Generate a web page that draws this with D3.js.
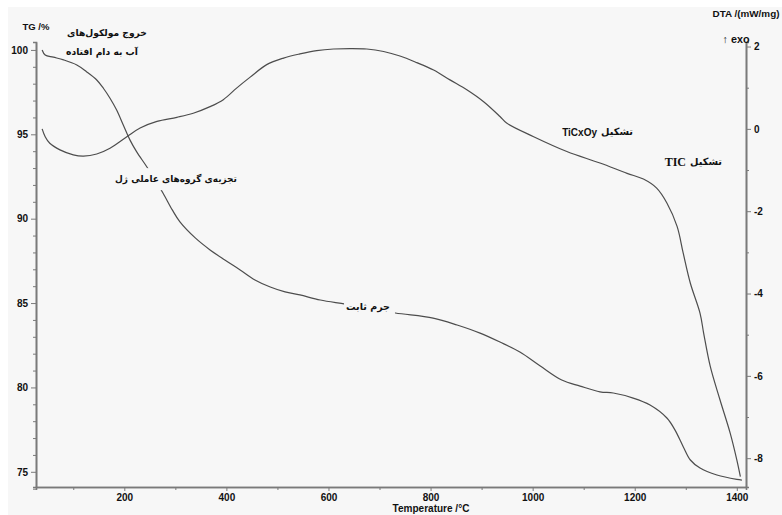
<!DOCTYPE html>
<html><head><meta charset="utf-8">
<script src="https://cdn.jsdelivr.net/npm/d3@7/dist/d3.min.js"></script>
<style>body{margin:0;background:#fff}svg{display:block}</style>
</head><body>
<svg id="c" width="782" height="515"></svg>
<script>
// ---- data ----
const tgTemp = [39,45,61,81,107,126,146,159,172,185,198,211,224,244,260,276,294,309,339,368,397,427,456,486,515,544,584,633,682,731,805,852,897,936,975,1015,1057,1093,1132,1158,1197,1230,1263,1279,1295,1309,1328,1361,1400,1410];
const tgValue = [100.0,99.70,99.57,99.41,99.11,98.71,98.22,97.73,97.14,96.44,95.55,94.67,93.97,93.08,92.30,91.51,90.52,89.81,88.86,88.15,87.55,86.96,86.37,85.95,85.66,85.48,85.18,84.94,84.68,84.41,84.11,83.70,83.22,82.69,82.10,81.27,80.44,80.08,79.74,79.67,79.37,78.96,78.19,77.47,76.49,75.70,75.22,74.81,74.55,74.51];
const dtaTemp = [39,45,54,74,100,120,146,172,205,231,264,303,335,368,394,420,446,479,512,544,577,610,642,675,708,740,773,806,838,871,904,936,949,1002,1067,1132,1185,1217,1243,1263,1283,1295,1309,1328,1335,1348,1367,1387,1400,1407];
const dtaValue = [0.0,-0.19,-0.35,-0.51,-0.63,-0.66,-0.61,-0.47,-0.19,0.02,0.18,0.28,0.38,0.54,0.71,0.99,1.25,1.56,1.72,1.82,1.90,1.94,1.95,1.94,1.88,1.77,1.61,1.43,1.19,0.95,0.66,0.30,0.14,-0.19,-0.55,-0.83,-1.08,-1.22,-1.44,-1.80,-2.37,-3.02,-3.75,-4.48,-4.96,-5.77,-6.58,-7.39,-8.04,-8.45];
const xTicks = [200,400,600,800,1000,1200,1400];
const xMinor = [100,300,500,700,900,1100,1300];
const tgTicks = [75,80,85,90,95,100];
const tgMinor = [74,76,77,78,79,81,82,83,84,86,87,88,89,91,92,93,94,96,97,98,99];
const dtaTicks = [-8,-6,-4,-2,0,2];
const dtaMinor = [-7,-5,-3,-1,1];

// ---- layout ----
const L = 36, R = 746, T = 42, B = 487;
const svg = d3.select("#c");
const bg = "#f7f7f7";
svg.append("rect").attr("x",8).attr("y",7).attr("width",774).attr("height",508).attr("fill",bg);

const x = d3.scaleLinear().domain([27,1418]).range([L,R]);
const yTG = d3.scaleLinear().domain([74.1,100.47]).range([B,T]);
const yDTA = d3.scaleLinear().domain([-8.70,2.11]).range([B,T]);

const axisCol = "#7a7a7a", lineCol = "#4d4d4d";
const bold = "Liberation Sans, Arial, sans-serif";
const fa = "DejaVu Sans, sans-serif";

function styleAxis(g){
  g.select(".domain").attr("stroke",axisCol).attr("stroke-width",1.6);
  g.selectAll(".tick line").attr("stroke",axisCol).attr("stroke-width",1);
  g.selectAll(".tick text").attr("font-family",bold).attr("font-weight","bold").attr("font-size",10).attr("fill","#111");
}
const fmt = d => String(d).replace("\u2212","-");
// minor ticks
svg.append("g").attr("transform",`translate(0,${B})`)
  .call(d3.axisBottom(x).tickValues(xMinor).tickSize(3).tickFormat("")).call(styleAxis);
svg.append("g").attr("transform",`translate(${L},0)`)
  .call(d3.axisLeft(yTG).tickValues(tgMinor).tickSize(3).tickFormat("")).call(styleAxis);
svg.append("g").attr("transform",`translate(${R},0)`)
  .call(d3.axisRight(yDTA).tickValues(dtaMinor).tickSize(3).tickFormat("")).call(styleAxis);
// major
svg.append("g").attr("transform",`translate(0,${B})`)
  .call(d3.axisBottom(x).tickValues(xTicks).tickSize(4).tickPadding(3).tickSizeOuter(0).tickFormat(fmt)).call(styleAxis);
svg.append("g").attr("transform",`translate(${L},0)`)
  .call(d3.axisLeft(yTG).tickValues(tgTicks).tickSize(5).tickPadding(3).tickSizeOuter(0).tickFormat(fmt)).call(styleAxis);
svg.append("g").attr("transform",`translate(${R},0)`)
  .call(d3.axisRight(yDTA).tickValues(dtaTicks).tickSize(5).tickPadding(3).tickSizeOuter(0).tickFormat(fmt)).call(styleAxis);

// curves
const tgLine = d3.line().x(d=>x(d[0])).y(d=>yTG(d[1])).curve(d3.curveCatmullRom.alpha(0.5));
const dtaLine = d3.line().x(d=>x(d[0])).y(d=>yDTA(d[1])).curve(d3.curveCatmullRom.alpha(0.5));
svg.append("path").attr("d",dtaLine(d3.zip(dtaTemp,dtaValue))).attr("fill","none").attr("stroke",lineCol).attr("stroke-width",1.2);
svg.append("path").attr("d",tgLine(d3.zip(tgTemp,tgValue))).attr("fill","none").attr("stroke",lineCol).attr("stroke-width",1.2);

// text helper
function label(cx, cy, str, font, size, width, opts={}){
  const g = svg.append("g");
  const t = g.append("text").attr("x",cx).attr("y",cy).attr("dy","0.35em")
    .attr("text-anchor","middle").attr("font-family",font).attr("font-weight","bold")
    .attr("font-size",size).attr("fill","#111").text(str);
  if(opts.rtl) t.attr("direction","rtl");
  if(width){
    const w = t.node().getComputedTextLength();
    if(w>0) t.attr("font-size", size*width/w);
  }
  if(opts.bgPad){
    const bb = t.node().getBBox();
    const p = opts.bgPad;
    g.insert("rect","text").attr("x",bb.x-p[0]).attr("y",bb.y-p[1]).attr("width",bb.width+p[0]+p[2]).attr("height",bb.height+p[1]+p[3]).attr("fill",bg);
  }
  return t;
}

label(36,27,"TG /%",bold,10,27);
label(746,14,"DTA /(mW/mg)",bold,10,67);
label(736,39,"\u2191 exo",bold,10,27);
label(431,508,"Temperature /°C",bold,10,77);
label(107,33,"خروج مولکول‌های",fa,10,80,{rtl:true});
label(102,52,"آب به دام افتاده",fa,10,72,{rtl:true});
label(176,179,"تجزیه‌ی گروه‌های عاملی ژل",fa,10,122,{rtl:true,bgPad:[2,5,2,5]});
label(368,307,"جرم ثابت",fa,10,44,{rtl:true,bgPad:[2,3,5,3]});

// formation labels: Persian word + Latin formula
function mixLabel(xRight, cy, word, wordW, formula, formulaFont, formulaSize){
  const w = svg.append("text").attr("x",xRight).attr("y",cy).attr("dy","0.35em")
    .attr("text-anchor","end").attr("font-family",fa).attr("font-weight","bold").attr("font-size",10).attr("fill","#111").text(word);
  const ww = w.node().getComputedTextLength();
  w.attr("font-size", 10*wordW/ww);
  svg.append("text").attr("x",xRight-wordW-4).attr("y",cy).attr("dy","0.35em")
    .attr("text-anchor","end").attr("font-family",formulaFont).attr("font-weight","bold").attr("font-size",formulaSize).attr("fill","#111").text(formula);
}
mixLabel(633,132,"تشکیل",32,"TiCxOy",bold,10);
mixLabel(722,162,"تشکیل",32,"TIC","Liberation Serif, Times New Roman, serif",12);
</script>
</body></html>
